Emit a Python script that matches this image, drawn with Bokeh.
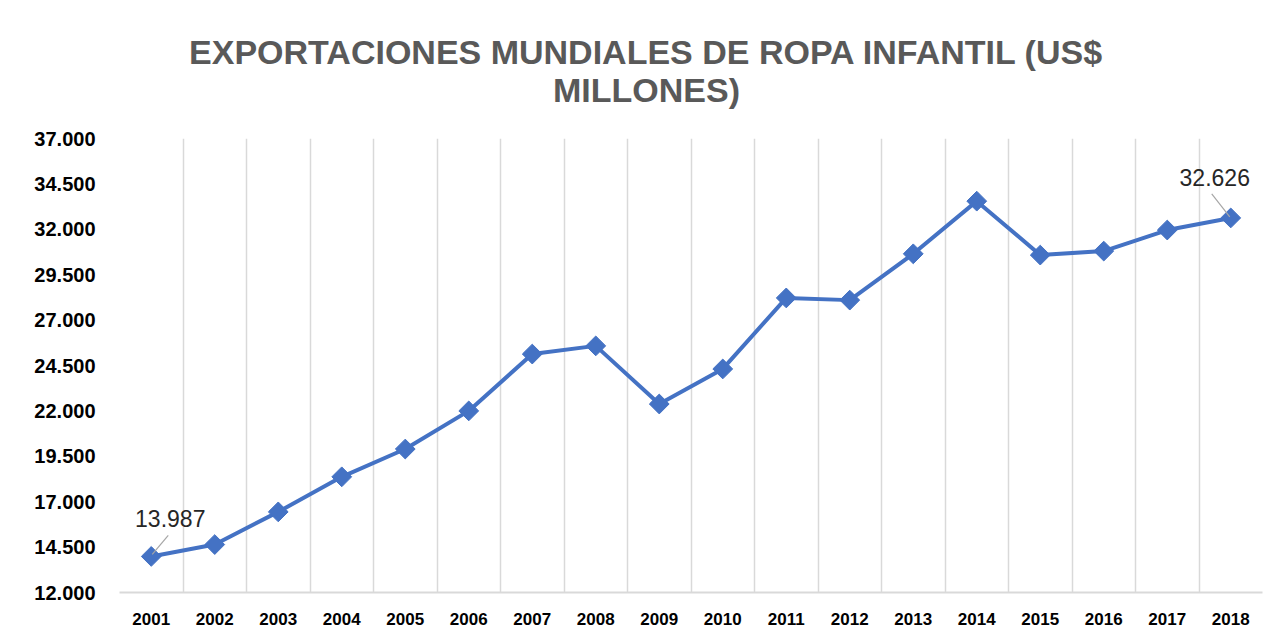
import math
from bokeh.plotting import figure
from bokeh.layouts import column
from bokeh.core.properties import value
from bokeh.models import Range1d, FixedTicker, Label
from bokeh.embed import file_html
from bokeh.resources import INLINE

# ---------------- data ----------------
years = [2001, 2002, 2003, 2004, 2005, 2006, 2007, 2008, 2009,
         2010, 2011, 2012, 2013, 2014, 2015, 2016, 2017, 2018]
exports = [13987, 14640, 16440, 18370, 19900, 22000, 25130, 25580, 22380,
           24310, 28220, 28100, 30650, 33550, 30580, 30800, 31960, 32626]
y_ticks = [12000, 14500, 17000, 19500, 22000, 24500, 27000, 29500, 32000, 34500, 37000]
y_tick_labels = ["12.000", "14.500", "17.000", "19.500", "22.000", "24.500",
                 "27.000", "29.500", "32.000", "34.500", "37.000"]
x_tick_labels = ["2001", "2002", "2003", "2004", "2005", "2006", "2007", "2008", "2009",
                 "2010", "2011", "2012", "2013", "2014", "2015", "2016", "2017", "2018"]
title_lines = ["EXPORTACIONES MUNDIALES DE ROPA INFANTIL (US$", "MILLONES)"]
labelled_years = [2001, 2018]


def fmt(v):
    return f"{v:,}".replace(",", ".")


# ---------------- layout / style ----------------
BLUE = "#4472C4"
GRID = "#d9d9d9"
FONT = "Liberation Sans"
W = 1265
TITLE_H = 120
H = 510
BL, BR, BT, BB = 119, 3, 18, 38
FRAME_W = W - BL - BR

# ---- title strip (its own small svg figure, frame aligned with the chart's) ----
tp = figure(width=W, height=TITLE_H, output_backend="svg", toolbar_location=None,
            title=None, x_axis_location=None, y_axis_location=None,
            x_range=Range1d(0, FRAME_W), y_range=Range1d(0, TITLE_H),
            min_border_left=BL, min_border_right=BR, min_border_top=0, min_border_bottom=0)
tp.outline_line_color = None
tp.xgrid.grid_line_color = None
tp.ygrid.grid_line_color = None
title_cx = 527
title_cy = [TITLE_H - 51, TITLE_H - 89.5]
tp.text(x=[title_cx] * len(title_lines), y=title_cy, text=title_lines,
        text_align="center", text_baseline="middle",
        text_font=value(FONT), text_font_style="bold", text_font_size="34px",
        text_color="#595959")

# ---- main chart ----
p = figure(width=W, height=H, output_backend="svg", toolbar_location=None,
           title=None,
           x_range=Range1d(years[0] - 0.5, years[-1] + 0.5),
           y_range=Range1d(y_ticks[0], y_ticks[-1]),
           min_border_left=BL, min_border_right=BR, min_border_top=BT,
           min_border_bottom=BB)
p.outline_line_color = None
p.background_fill_color = "white"
p.border_fill_color = "white"

# axes
p.yaxis.ticker = FixedTicker(ticks=y_ticks)
p.yaxis.major_label_overrides = {t: l for t, l in zip(y_ticks, y_tick_labels)}
p.yaxis.axis_line_color = None
p.yaxis.major_tick_line_color = None
p.yaxis.minor_tick_line_color = None
p.yaxis.major_label_text_font = FONT
p.yaxis.major_label_text_font_style = "bold"
p.yaxis.major_label_text_font_size = "20px"
p.yaxis.major_label_text_color = "#000000"
p.yaxis.major_label_standoff = 18

p.xaxis.ticker = FixedTicker(ticks=years)
p.xaxis.major_label_overrides = {y: l for y, l in zip(years, x_tick_labels)}
p.xaxis.axis_line_color = GRID
p.xaxis.axis_line_width = 2
p.xaxis.major_tick_line_color = None
p.xaxis.minor_tick_line_color = None
p.xaxis.major_label_text_font = FONT
p.xaxis.major_label_text_font_style = "bold"
p.xaxis.major_label_text_font_size = "17px"
p.xaxis.major_label_text_color = "#000000"
p.xaxis.major_label_standoff = 14

# grid: vertical lines at category boundaries
p.xgrid.ticker = FixedTicker(ticks=[y - 0.5 for y in years] + [years[-1] + 0.5])
p.xgrid.grid_line_color = GRID
p.xgrid.grid_line_width = 1.5
p.ygrid.grid_line_color = None

# series
p.line(years, exports, line_color=BLUE, line_width=4)
p.scatter(years, exports, marker="square", size=14, angle=math.pi / 4,
          fill_color=BLUE, line_color=BLUE)

# data labels with leader lines
px_per_year = 63.5
px_per_unit = 45.4 / 2500.0
label_style = {2001: dict(dx=19, dy=38, l0=(1, 2), l1=(17, 21)),
               2018: dict(dx=-16, dy=40, l0=(-1, 1), l1=(-19, 24))}
for yr in labelled_years:
    v = exports[years.index(yr)]
    s = label_style[yr]
    p.add_layout(Label(x=yr, y=v, text=fmt(v), x_offset=s["dx"], y_offset=s["dy"],
                       text_align="center", text_baseline="middle",
                       text_font=FONT, text_font_size="23px", text_color="#262626"))
    p.segment(x0=[yr + s["l0"][0] / px_per_year], y0=[v + s["l0"][1] / px_per_unit],
              x1=[yr + s["l1"][0] / px_per_year], y1=[v + s["l1"][1] / px_per_unit],
              line_color="#a6a6a6", line_width=1.2)

layout = column(tp, p, spacing=0)
open("out.html", "w").write(file_html(layout, INLINE))
